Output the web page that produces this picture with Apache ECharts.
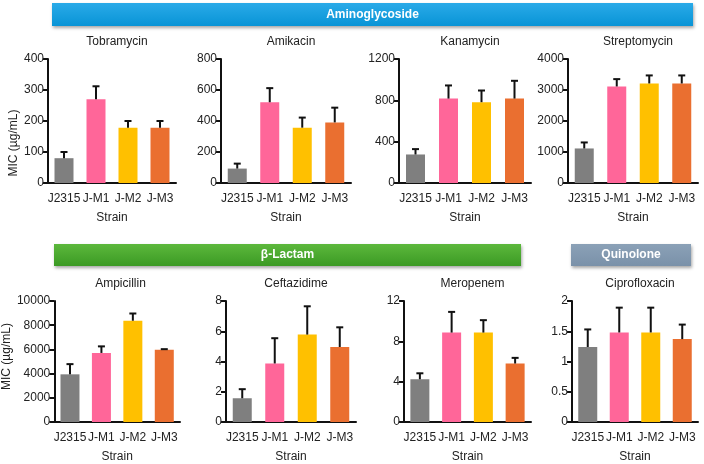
<!DOCTYPE html>
<html>
<head>
<meta charset="utf-8">
<script src="https://cdn.jsdelivr.net/npm/echarts@6/dist/echarts.min.js"></script>
<style>
  html, body { margin: 0; padding: 0; background: #fff; }
  #container { width: 704px; height: 464px; }
</style>
</head>
<body>
<div id="container"></div>
<script>
var strains = ["J2315", "J-M1", "J-M2", "J-M3"];
var barColors = ["#7f7f7f", "#ff6699", "#ffc000", "#ea6f30"];

// mean MIC and upper error (SD) per strain
var tobramycin = [80, 270, 178, 178];
var tobramycinSd = [20, 42, 22, 22];
var amikacin = [93, 521, 357, 391];
var amikacinSd = [32, 91, 65, 95];
var kanamycin = [276, 817, 782, 817];
var kanamycinSd = [52, 127, 113, 172];
var streptomycin = [1114, 3114, 3211, 3211];
var streptomycinSd = [194, 237, 259, 259];
var ampicillin = [3940, 5707, 8370, 5980];
var ampicillinSd = [843, 543, 597, 40];
var ceftazidime = [1.57, 3.87, 5.78, 4.96];
var ceftazidimeSd = [0.6, 1.67, 1.87, 1.3];
var meropenem = [4.24, 8.87, 8.87, 5.8];
var meropenemSd = [0.59, 2.05, 1.23, 0.56];
var ciprofloxacin = [1.24, 1.48, 1.48, 1.37];
var ciprofloxacinSd = [0.29, 0.41, 0.41, 0.24];

var panels = [
    { name: "Tobramycin", mean: tobramycin, sd: tobramycinSd, max: 400, step: 100, left: 48, top: 59, width: 128, height: 124, yName: true, namePad: [0, 44, 0, 0] },
    { name: "Amikacin", mean: amikacin, sd: amikacinSd, max: 800, step: 200, left: 221, top: 59, width: 130, height: 124 },
    { name: "Kanamycin", mean: kanamycin, sd: kanamycinSd, max: 1200, step: 400, left: 399, top: 59, width: 132, height: 124 },
    { name: "Streptomycin", mean: streptomycin, sd: streptomycinSd, max: 4000, step: 1000, left: 568, top: 59, width: 130, height: 124 },
    { name: "Ampicillin", mean: ampicillin, sd: ampicillinSd, max: 10000, step: 2000, left: 51, top: 301, width: 129, height: 122, yName: true, namePad: [0, 0, 0, 10] },
    { name: "Ceftazidime", mean: ceftazidime, sd: ceftazidimeSd, max: 8, step: 2, left: 226, top: 301, width: 130, height: 122 },
    { name: "Meropenem", mean: meropenem, sd: meropenemSd, max: 12, step: 4, left: 404, top: 301, width: 127, height: 122 },
    { name: "Ciprofloxacin", mean: ciprofloxacin, sd: ciprofloxacinSd, max: 2, step: 0.5, left: 572, top: 301, width: 126, height: 122 }
];

var font = "Arial, 'Liberation Sans', sans-serif";
var dom = document.getElementById("container");
var myChart = echarts.init(dom);

var grid = [], xAxis = [], yAxis = [], series = [], title = [];

panels.forEach(function (p, i) {
    grid.push({ left: p.left, top: p.top, width: p.width, height: p.height });
    title.push({
        text: p.name,
        left: p.left + p.width / 2,
        top: p.top - 28,
        textAlign: "center",
        textStyle: { fontFamily: font, fontSize: 12, fontWeight: "normal", color: "#222" }
    });
    xAxis.push({
        gridIndex: i,
        type: "category",
        data: strains,
        name: "Strain",
        nameLocation: "middle",
        nameGap: 29,
        nameTextStyle: { fontFamily: font, fontSize: 12, color: "#222" },
        axisLine: { lineStyle: { color: "#111", width: 2 } },
        axisTick: { show: false },
        axisLabel: { fontFamily: font, fontSize: 12, color: "#222", margin: 10, interval: 0 }
    });
    yAxis.push({
        gridIndex: i,
        type: "value",
        min: 0,
        max: p.max,
        interval: p.step,
        name: p.yName ? "MIC (µg/mL)" : "",
        nameLocation: "middle",
        nameGap: p.left - 20,
        nameTextStyle: { fontFamily: font, fontSize: 12, color: "#222", padding: p.namePad || 0 },
        splitLine: { show: false },
        axisLine: { show: true, lineStyle: { color: "#111", width: 2 } },
        axisTick: { show: true, length: 5, lineStyle: { color: "#111", width: 2 } },
        axisLabel: {
            fontFamily: font, fontSize: 12, color: "#222", margin: 4,
            formatter: function (v) { return String(v); }
        }
    });
    series.push({
        type: "bar",
        xAxisIndex: i,
        yAxisIndex: i,
        barWidth: 19,
        data: p.mean,
        itemStyle: {
            color: function (params) { return barColors[params.dataIndex]; }
        },
        silent: true
    });
    series.push({
        type: "custom",
        xAxisIndex: i,
        yAxisIndex: i,
        z: 3,
        encode: { x: 0, y: 1 },
        data: p.mean.map(function (v, k) { return [k, v, p.sd[k]]; }),
        renderItem: function (params, api) {
            var x = api.value(0), m = api.value(1), e = api.value(2);
            var p0 = api.coord([x, m]);
            var p1 = api.coord([x, m + e]);
            var half = 3.5;
            var st = { stroke: "#111", lineWidth: 2 };
            return {
                type: "group",
                children: [
                    { type: "line", shape: { x1: p0[0], y1: p0[1], x2: p1[0], y2: p1[1] }, style: st },
                    { type: "line", shape: { x1: p1[0] - half, y1: p1[1], x2: p1[0] + half, y2: p1[1] }, style: st }
                ]
            };
        },
        silent: true
    });
});

function banner(text, x, y, w, h, c1, c2) {
    return {
        type: "group",
        left: x,
        top: y,
        children: [
            {
                type: "rect",
                shape: { x: 0, y: 0, width: w, height: h },
                style: {
                    fill: new echarts.graphic.LinearGradient(0, 0, 0, 1, [
                        { offset: 0, color: c1 },
                        { offset: 1, color: c2 }
                    ]),
                    shadowBlur: 3,
                    shadowOffsetX: 1,
                    shadowOffsetY: 2,
                    shadowColor: "rgba(0,0,0,0.35)"
                }
            },
            {
                type: "text",
                x: w / 2,
                y: h / 2,
                style: {
                    text: text,
                    fill: "#fff",
                    fontFamily: font,
                    fontSize: 12,
                    fontWeight: "bold",
                    align: "center",
                    verticalAlign: "middle"
                }
            }
        ]
    };
}

var option = {
    animation: false,
    title: title,
    grid: grid,
    xAxis: xAxis,
    yAxis: yAxis,
    series: series,
    graphic: [
        banner("Aminoglycoside", 52, 3, 641, 23, "#2aaae8", "#0894d6"),
        banner("β-Lactam", 54, 244, 467, 22, "#5cb83c", "#3b9a24"),
        banner("Quinolone", 571, 244, 120, 22, "#8ba1b7", "#7a91a9")
    ]
};

myChart.setOption(option);
</script>
</body>
</html>
